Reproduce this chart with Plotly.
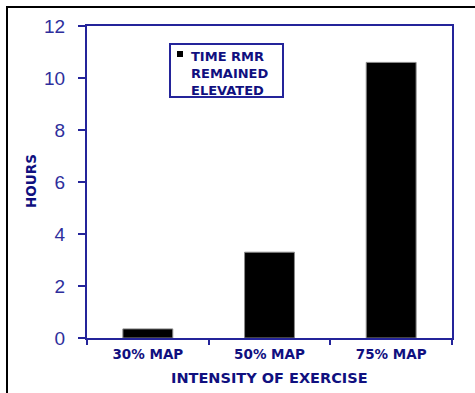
import plotly.graph_objects as go

# Hours that resting metabolic rate stayed elevated, by exercise intensity
categories = ["30% MAP", "50% MAP", "75% MAP"]
hours = [0.35, 3.3, 10.6]
y_ticks = [0, 2, 4, 6, 8, 10, 12]
legend_lines = ["TIME RMR", "REMAINED", "ELEVATED"]

W, H = 475, 393
L, R, T, B = 87, 452, 26, 338  # plot area edges in pixels

AXIS = "#24249a"
TICK_TXT = "#2e2e9c"
TITLE_TXT = "#10107f"
BOLD = "DejaVu Sans"


def px(x):
    return (x - L) / (R - L)


def py(y):
    return (B - y) / (B - T)


fig = go.Figure(
    go.Bar(
        x=categories,
        y=hours,
        marker=dict(color="black", line=dict(color="#8a8a8a", width=1)),
        showlegend=False,
    )
)

fig.update_layout(
    width=W,
    height=H,
    margin=dict(l=L, r=W - R, t=T, b=H - B),
    paper_bgcolor="white",
    plot_bgcolor="white",
    bargap=0.59,
)

fig.update_yaxes(
    range=[0, 12],
    tickvals=y_ticks,
    ticks="outside",
    ticklen=7,
    tickwidth=2,
    tickcolor=AXIS,
    showline=True,
    linecolor=AXIS,
    linewidth=2,
    mirror=True,
    showgrid=False,
    zeroline=False,
    tickfont=dict(family="Liberation Sans", size=19, color=TICK_TXT),
    ticklabelstandoff=9,
)

fig.update_xaxes(
    ticks="outside",
    tickson="boundaries",
    ticklen=5,
    tickwidth=2,
    tickcolor=AXIS,
    showline=True,
    linecolor=AXIS,
    linewidth=2,
    mirror=True,
    showgrid=False,
    tickfont=dict(family=BOLD, size=13.5, color=TITLE_TXT, weight="bold"),
    ticklabelstandoff=3,
)

# axis titles
fig.add_annotation(
    text="HOURS", xref="paper", yref="paper", x=px(31), y=py(181),
    showarrow=False, textangle=-90, xanchor="center", yanchor="middle",
    font=dict(family=BOLD, size=13.5, color=TITLE_TXT, weight="bold"),
)
fig.add_annotation(
    text="INTENSITY OF EXERCISE", xref="paper", yref="paper", x=px(269), y=py(378),
    showarrow=False, xanchor="center", yanchor="middle",
    font=dict(family=BOLD, size=14.5, color=TITLE_TXT, weight="bold"),
)

# legend box
fig.add_shape(
    type="rect", xref="paper", yref="paper",
    x0=px(170), x1=px(283), y0=py(97), y1=py(44),
    line=dict(color=AXIS, width=2), fillcolor="white",
)
fig.add_shape(
    type="rect", xref="paper", yref="paper",
    x0=px(177), x1=px(183), y0=py(57), y1=py(51),
    line=dict(color="black", width=0), fillcolor="black",
)
fig.add_annotation(
    text="<br>".join(legend_lines), xref="paper", yref="paper",
    x=px(189), y=py(47), xanchor="left", yanchor="top", align="left",
    showarrow=False,
    font=dict(family=BOLD, size=13, color=TITLE_TXT, weight="bold"),
)

# outer frame
fig.add_shape(
    type="path", xref="paper", yref="paper",
    path=f"M {px(7)},{py(400)} L {px(7)},{py(7)} L {px(480)},{py(7)}",
    line=dict(color="black", width=2),
)

fig.write_html("out.html")
